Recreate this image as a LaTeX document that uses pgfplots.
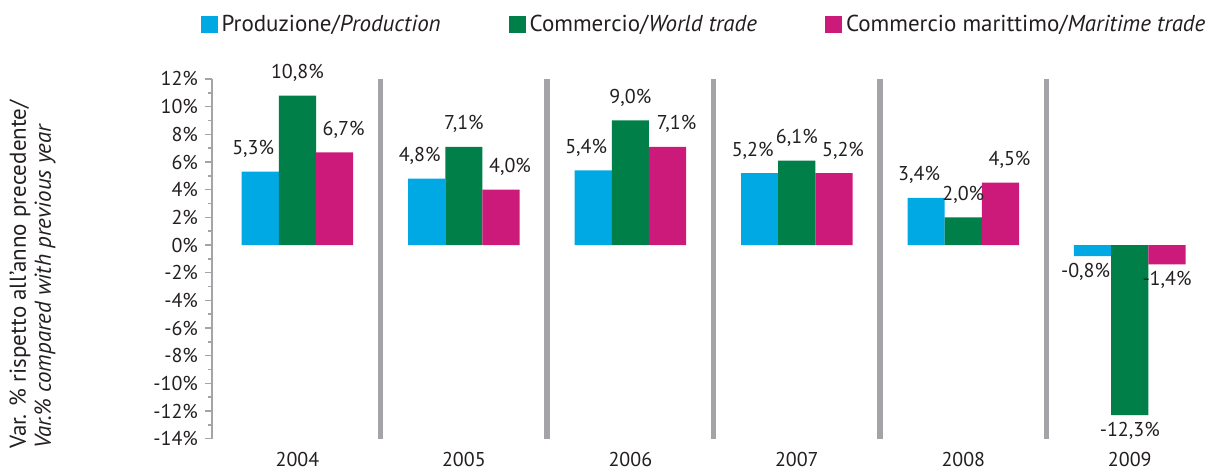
\documentclass[border=0pt]{standalone}
\usepackage{fontspec}
\setmainfont{PT Sans}
\usepackage{pgfplots}
\pgfplotsset{compat=1.18}
\definecolor{cblue}{RGB}{0,168,228}
\definecolor{cgreen}{RGB}{0,128,72}
\definecolor{cmag}{RGB}{204,26,122}
\definecolor{axgray}{RGB}{163,163,168}
\definecolor{txt}{RGB}{35,31,32}
\begin{document}
\begin{tikzpicture}
\useasboundingbox (-106pt,-17.65pt) rectangle (500.5pt,219.35pt);
\begin{axis}[
  scale only axis,
  width=500.5pt, height=179.85pt,
  xmin=-0.513, xmax=5.5,
  ymin=-14, ymax=12,
  ybar=0pt, bar width=18.6pt,
  axis x line*=bottom, axis y line*=left,
  x axis line style={draw=none},
  y axis line style={axgray, line width=1pt, -},
  xtick={0,1,2,3,4,5},
  xticklabels={2004,2005,2006,2007,2008,2009},
  x tick style={draw=none},
  xticklabel style={yshift=0pt},
  extra x ticks={0.5,1.5,2.5,3.5,4.5},
  extra x tick labels={},
  extra x tick style={grid=major, major grid style={axgray, line width=2.8pt}, tick style={draw=none}},
  ytick={-14,-12,...,12},
  minor ytick={-13,-11,...,11},
  tick align=outside,
  major tick length=3.5pt, minor tick length=2.2pt,
  y tick style={axgray, line width=0.8pt},
  minor y tick style={axgray, line width=0.8pt},
  yticklabel={\pgfmathprintnumber{\tick}\%},
  /pgf/number format/assume math mode=true,
  /pgf/number format/use comma,
  tick label style={font=\fontsize{10}{12}\selectfont, text=txt},
  ylabel={Var. \% rispetto all'anno precedente/\\\textit{Var.\% compared with previous year}},
  ylabel style={align=left, font=\fontsize{11.5}{12.5}\selectfont, text=txt, at={(axis description cs:-0.1793,-0.048)}, anchor=west},
  visualization depends on={y \as \rawy},
  nodes near coords={\pgfmathprintnumber[fixed,fixed zerofill,precision=1,use comma,assume math mode=true]{\pgfplotspointmeta}\%},
  every node near coord/.append style={font=\fontsize{10}{12}\selectfont, text=txt, yshift={(\rawy>0)*3.5pt}},
  legend style={at={(0.4925,1)}, anchor=south, yshift=18pt, draw=none, font=\fontsize{11.5}{13}\selectfont, text=txt, /tikz/every even column/.append style={column sep=32pt}},
  legend columns=3,
  legend image code/.code={\fill[#1] (0pt,-4.2pt) rectangle (8.5pt,4.2pt);},
]
\addplot[fill=cblue, draw=none, every node near coord/.append style={xshift=-3.5pt}] coordinates {(0,5.3) (1,4.8) (2,5.4) (3,5.2) (4,3.4) (5,-0.8)};
\addplot[fill=cgreen, draw=none] coordinates {(0,10.8) (1,7.1) (2,9.0) (3,6.1) (4,2.0) (5,-12.3)};
\addplot[fill=cmag, draw=none, every node near coord/.append style={xshift={(\rawy>0)*4.5pt}}] coordinates {(0,6.7) (1,4.0) (2,7.1) (3,5.2) (4,4.5) (5,-1.4)};
\legend{Produzione/\textit{Production}, Commercio/\textit{World trade}, Commercio marittimo/\textit{Maritime trade}}
\end{axis}
\end{tikzpicture}
\end{document}
